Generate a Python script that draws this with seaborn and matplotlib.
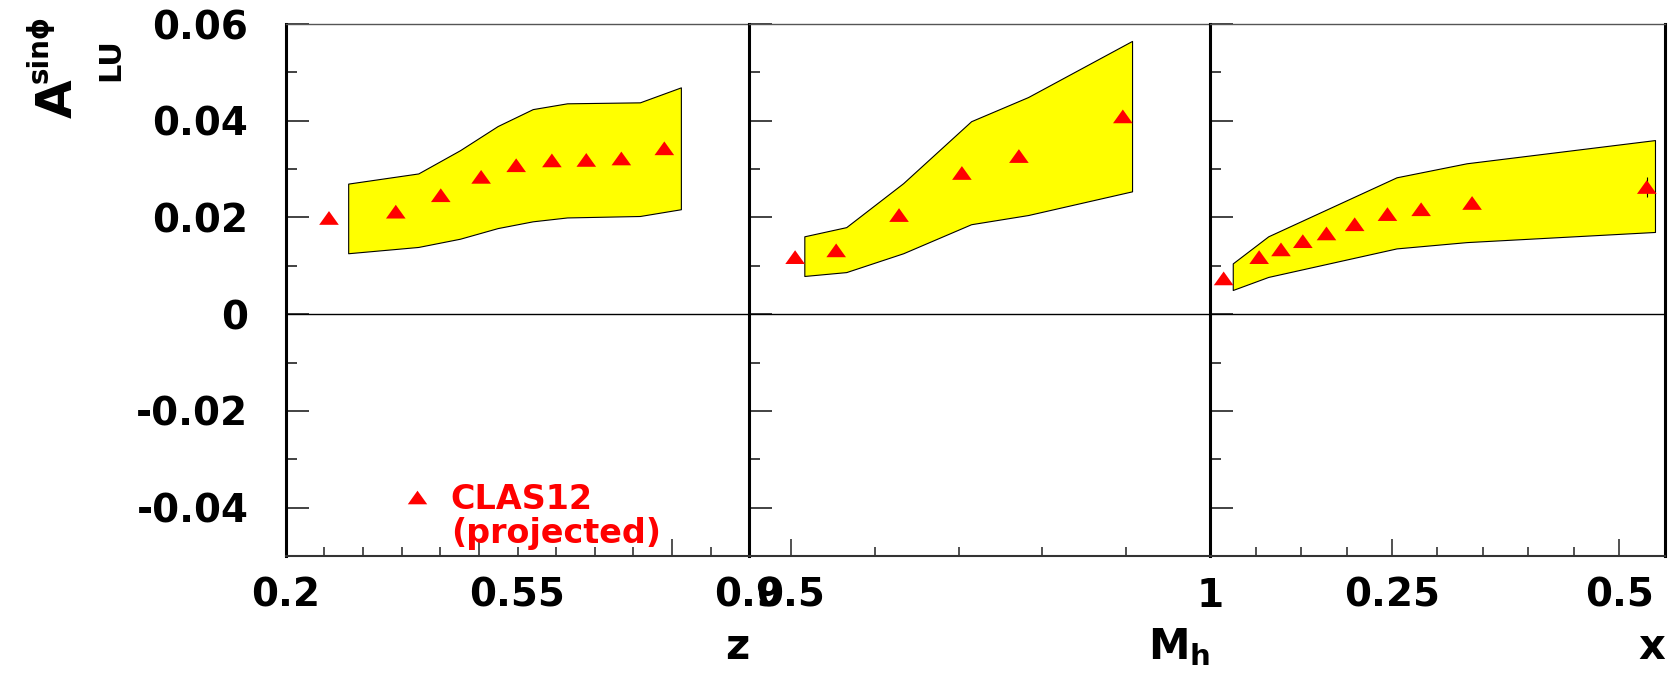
import matplotlib
matplotlib.use("Agg")
import matplotlib.pyplot as plt
import seaborn as sns
from matplotlib.markers import MarkerStyle
from matplotlib.lines import Line2D

# --- data ------------------------------------------------------------------
# z panel
z_pts = [0.265, 0.366, 0.434, 0.495, 0.548, 0.602, 0.654, 0.707, 0.772]
z_vals = [0.0199, 0.0212, 0.0246, 0.0284, 0.0308, 0.0318, 0.0319, 0.0322, 0.0343]
z_band_x = [0.294, 0.400, 0.463, 0.520, 0.573, 0.625, 0.735, 0.797]
z_band_hi = [0.0270, 0.0291, 0.0339, 0.0389, 0.0424, 0.0436, 0.0438, 0.0469]
z_band_lo = [0.0126, 0.0139, 0.0156, 0.0178, 0.0192, 0.0200, 0.0203, 0.0217]

# M_h panel
mh_pts = [0.505, 0.554, 0.629, 0.704, 0.772, 0.896]
mh_vals = [0.0118, 0.0132, 0.0205, 0.0292, 0.0327, 0.0409]
mh_band_x = [0.516, 0.566, 0.634, 0.715, 0.783, 0.907]
mh_band_hi = [0.0161, 0.0180, 0.0271, 0.0399, 0.0449, 0.0565]
mh_band_lo = [0.0079, 0.0087, 0.0126, 0.0186, 0.0205, 0.0254]

# x panel
x_pts = [0.065, 0.104, 0.128, 0.152, 0.178, 0.209, 0.245, 0.282, 0.338, 0.530]
x_vals = [0.0074, 0.0118, 0.0134, 0.0151, 0.0167, 0.0186, 0.0207, 0.0217, 0.0230, 0.0263]
x_err = [0, 0, 0, 0, 0, 0, 0, 0, 0, 0.0020]
x_band_x = [0.075, 0.114, 0.255, 0.332, 0.539]
x_band_hi = [0.0105, 0.0161, 0.0283, 0.0312, 0.0360]
x_band_lo = [0.0050, 0.0077, 0.0136, 0.0149, 0.0170]

# axis ticks / labels
y_major = [-0.04, -0.02, 0.0, 0.02, 0.04, 0.06]
y_major_labels = ["-0.04", "-0.02", "0", "0.02", "0.04", "0.06"]
y_minor = [-0.05, -0.03, -0.01, 0.01, 0.03, 0.05]

z_ticks, z_labels = [0.2, 0.55, 0.9], ["0.2", "0.55", "0.9"]
z_minor = [0.258, 0.317, 0.375, 0.433, 0.608, 0.667, 0.725, 0.842]
z_long = [0.492, 0.783]
mh_ticks, mh_labels = [0.5, 1.0], ["0.5", "1"]
mh_minor = [0.6, 0.7, 0.8, 0.9]
x_ticks, x_labels = [0.25, 0.5], ["0.25", "0.5"]
x_minor = [0.1, 0.15, 0.2, 0.3, 0.35, 0.4, 0.45]

# --- style -----------------------------------------------------------------
sns.set_style("white")
plt.rcParams["font.family"] = ["DejaVu Sans"]
plt.rcParams["font.weight"] = "bold"
plt.rcParams["mathtext.fontset"] = "dejavusans"
plt.rcParams["axes.unicode_minus"] = False
for key in ["text.color", "axes.labelcolor", "xtick.labelcolor", "ytick.labelcolor"]:
    plt.rcParams[key] = "black"

W, H = 1679, 677
fig = plt.figure(figsize=(W / 100, H / 100), dpi=100)


def box(x0, x1, y0=24, y1=556):
    return [x0 / W, 1 - y1 / H, (x1 - x0) / W, (y1 - y0) / H]


tri = MarkerStyle([(0, 0.7), (-1, -0.7), (1, -0.7), (0, 0.7)])
yellow = "#ffff00"

panels = [
    dict(pos=box(286, 749), xlim=(0.2, 0.9), pts=z_pts, vals=z_vals, bx=z_band_x,
         hi=z_band_hi, lo=z_band_lo, ticks=z_ticks, labels=z_labels, minor=z_minor,
         xlabel="z"),
    dict(pos=box(749, 1210), xlim=(0.45, 1.0), pts=mh_pts, vals=mh_vals, bx=mh_band_x,
         hi=mh_band_hi, lo=mh_band_lo, ticks=mh_ticks, labels=mh_labels, minor=mh_minor,
         xlabel=r"$\mathbf{M}_{\mathbf{h}}$"),
    dict(pos=box(1210, 1665), xlim=(0.05, 0.55), pts=x_pts, vals=x_vals, bx=x_band_x,
         hi=x_band_hi, lo=x_band_lo, ticks=x_ticks, labels=x_labels, minor=x_minor,
         xlabel="x"),
]

axes = []
for i, p in enumerate(panels):
    ax = fig.add_axes(p["pos"])
    axes.append(ax)

    ax.axhline(0, color="black", lw=1.0, zorder=1)
    ax.fill_between(p["bx"], p["lo"], p["hi"], facecolor=yellow, edgecolor="black",
                    linewidth=0.8, zorder=2)
    sns.scatterplot(x=p["pts"], y=p["vals"], marker=tri, s=200, color="red",
                    edgecolor="none", ax=ax, zorder=4)
    if i == 2:
        ax.errorbar(p["pts"], p["vals"], yerr=x_err, fmt="none", ecolor="black",
                    elinewidth=0.8, zorder=3)

    ax.set_xlim(*p["xlim"])
    ax.set_ylim(-0.05, 0.06)

    ax.set_xticks(p["ticks"], labels=p["labels"])
    ax.set_xticks(p["minor"], minor=True)
    ax.set_yticks(y_major, labels=y_major_labels if i == 0 else [])
    ax.set_yticks(y_minor, minor=True)

    xmaj_len = 6.5 if i == 0 else 12
    ax.tick_params(axis="x", which="major", direction="in", length=xmaj_len, width=1.2,
                   pad=15, labelsize=28, bottom=True, top=False, color="#333333")
    ax.tick_params(axis="x", which="minor", direction="in", length=6.5, width=1.2,
                   bottom=True, top=False, color="#333333")
    ax.tick_params(axis="y", which="major", direction="in", length=16.5, width=1.2,
                   pad=27, labelsize=28, left=True, right=False, color="#222222")
    ax.tick_params(axis="y", which="minor", direction="in", length=8, width=1.2,
                   left=True, right=False, color="#222222")

    ax.spines["left"].set_linewidth(2.2)
    ax.spines["left"].set_color("black")
    ax.spines["bottom"].set_linewidth(1.5)
    ax.spines["bottom"].set_color("#333333")
    ax.spines["top"].set_linewidth(1.0)
    ax.spines["top"].set_color("#555555")
    if i == 2:
        ax.spines["right"].set_linewidth(2.2)
        ax.spines["right"].set_color("black")
    else:
        ax.spines["right"].set_visible(False)

    ax.set_xlabel(p["xlabel"], loc="right", fontsize=30, fontweight="bold", labelpad=8,
                  color="black")
    ax.set_ylabel("")
    ax.patch.set_alpha(0)

# long ticks on the z axis that carry no label
sec = axes[0].secondary_xaxis("bottom")
sec.set_xticks(z_long, labels=["", ""])
sec.tick_params(axis="x", direction="in", length=12, width=1.2, color="#333333")
sec.spines["bottom"].set_visible(False)

# legend
handles = [Line2D([], [], marker=tri, ls="none", color="red", markersize=14,
                  markeredgewidth=0),
           Line2D([], [], ls="none")]
axes[0].legend(handles, ["CLAS12", "(projected)"], loc="upper left",
               bbox_to_anchor=(0.248, 0.138), frameon=False,
               labelcolor="red", handlelength=1.0, handletextpad=0.5, borderpad=0,
               labelspacing=0.05, borderaxespad=0, prop={"weight": "bold", "size": 24})

# y axis title A_LU^{sin phi}
fig.text(58 / W, 1 - 99 / H, "A", rotation=90, fontsize=36, fontweight="bold",
         ha="center", va="center", color="black")
fig.text(40 / W, 1 - 49 / H, "sinϕ", rotation=90, fontsize=20, fontweight="bold",
         ha="center", va="center", color="black")
fig.text(111 / W, 1 - 60 / H, "LU", rotation=90, fontsize=22, fontweight="bold",
         ha="center", va="center", color="black")

fig.savefig("out.png", dpi=100)
